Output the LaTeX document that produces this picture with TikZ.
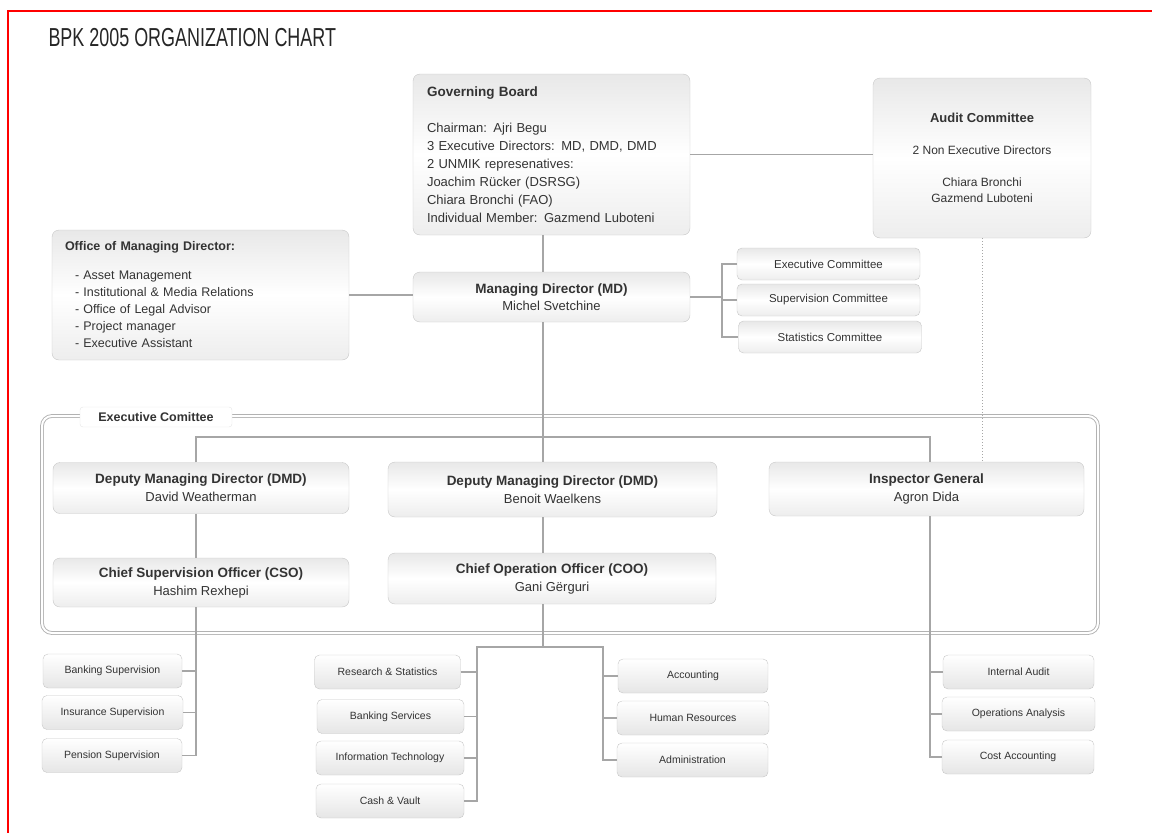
\documentclass[tikz,border=0pt]{standalone}
\usepackage{fontspec}
\setmainfont{Liberation Sans}
\usepackage{graphicx}

\newcommand\unithead[1]{{\fontsize{13.5}{18}\selectfont\bfseries #1}}

\tikzset{
  unit/.style={draw=black!22, rounded corners=7pt, top color=black!9, bottom color=black!7,
    middle color=white, inner sep=0pt, align=center, text=black!80,
    font=\fontsize{13}{18}\selectfont},
  comm/.style={unit, rounded corners=5pt, minimum width=183pt, minimum height=32pt,
    font=\fontsize{11.5}{14}\selectfont},
  dept/.style={unit, rounded corners=5pt, top color=white, bottom color=black!10,
    minimum height=34pt, font=\fontsize{10.5}{13}\selectfont},
  link/.style={draw=black!35, line width=1.8pt},
  auditlink/.style={draw=black!35, line width=0.8pt, dash pattern=on 1pt off 2pt},
}

\begin{document}
\begin{tikzpicture}[x=1pt, y=-1pt]
  \path[use as bounding box] (0,0) rectangle (1152,833);
  \draw[red, line width=1.6pt] (8,840) -- (8,11) -- (1160,11);
  \node[anchor=base west, text=black!85, font=\fontsize{26}{26}\selectfont] (title) at (45,46)
    {\scalebox{0.69}[1]{BPK 2005 ORGANIZATION CHART}};

  % top level
  \node[unit, minimum width=277pt, minimum height=161pt, text width=249pt, align=left] (gb) at (551.5,154.5)
    {\unithead{Governing Board}\\[17.5pt]
     Chairman: Ajri Begu\\
     3 Executive Directors: MD, DMD, DMD\\
     2 UNMIK represenatives:\\
     Joachim Rücker (DSRSG)\\
     Chiara Bronchi (FAO)\\
     Individual Member: Gazmend Luboteni};
  \node[unit, minimum width=218pt, minimum height=160pt, font=\fontsize{12}{16}\selectfont] (ac) at (982,158)
    {{\fontsize{13}{16}\selectfont\bfseries Audit Committee}\\[16pt]
     2 Non Executive Directors\\[16pt]
     Chiara Bronchi\\
     Gazmend Luboteni};
  \node[unit, minimum width=297pt, minimum height=130pt, text width=271pt, align=left,
    font=\fontsize{12.5}{17}\selectfont] (om) at (200.5,295)
    {{\bfseries Office of Managing Director:}\\[12pt]
     \hspace*{10pt}- Asset Management\\
     \hspace*{10pt}- Institutional \& Media Relations\\
     \hspace*{10pt}- Office of Legal Advisor\\
     \hspace*{10pt}- Project manager\\
     \hspace*{10pt}- Executive Assistant};
  \node[unit, minimum width=277pt, minimum height=50pt, font=\fontsize{13}{17}\selectfont] (md) at (551.5,297)
    {\unithead{Managing Director (MD)}\\ Michel Svetchine};
  \node[comm] (ec) at (828.5,264) {Executive Committee};
  \node[comm] (sc) at (828.5,300) {Supervision Committee};
  \node[comm] (stc) at (830,337) {Statistics Committee};

  % executive committee frame
  \draw[draw=black!30, line width=0.9pt, double=white, double distance=2pt, rounded corners=10pt]
    (42,416) rectangle (1098,633);
  \node[draw=black!10, fill=white, rounded corners=3pt, minimum width=152pt, minimum height=20pt,
    inner sep=0pt, text=black!80, font=\fontsize{12.5}{14}\selectfont\bfseries] (frame) at (156,417)
    {Executive Comittee};

  \node[unit, minimum width=296pt, minimum height=51pt] (dmd1) at (201,488)
    {\unithead{Deputy Managing Director (DMD)}\\ David Weatherman};
  \node[unit, minimum width=329pt, minimum height=55pt] (dmd2) at (552.5,489.5)
    {\unithead{Deputy Managing Director (DMD)}\\ Benoit Waelkens};
  \node[unit, minimum width=315pt, minimum height=54pt] (ig) at (926.5,489)
    {\unithead{Inspector General}\\ Agron Dida};
  \node[unit, minimum width=296pt, minimum height=49pt] (cso) at (201,582.5)
    {\unithead{Chief Supervision Officer (CSO)}\\ Hashim Rexhepi};
  \node[unit, minimum width=328pt, minimum height=51pt] (coo) at (552,578.5)
    {\unithead{Chief Operation Officer (COO)}\\ Gani Gërguri};

  % departments
  \node[dept, minimum width=139pt] (bs) at (112.5,671) {Banking Supervision};
  \node[dept, minimum width=141pt] (is) at (112.5,712.5) {Insurance Supervision};
  \node[dept, minimum width=140pt] (ps) at (112,755.5) {Pension Supervision};
  \node[dept, minimum width=146pt] (rs) at (387.5,672) {Research \& Statistics};
  \node[dept, minimum width=147pt] (bsv) at (390.5,716.5) {Banking Services};
  \node[dept, minimum width=148pt] (it) at (390,758) {Information Technology};
  \node[dept, minimum width=148pt] (cv) at (390,801) {Cash \& Vault};
  \node[dept, minimum width=150pt] (acc) at (693,676) {Accounting};
  \node[dept, minimum width=152pt] (hr) at (693,718) {Human Resources};
  \node[dept, minimum width=151pt] (adm) at (692.5,760) {Administration};
  \node[dept, minimum width=151pt] (ia) at (1018.5,672) {Internal Audit};
  \node[dept, minimum width=153pt] (oa) at (1018.5,714) {Operations Analysis};
  \node[dept, minimum width=152pt] (ca) at (1018,757) {Cost Accounting};

  % connectors
  \coordinate (colA) at (196,0);
  \coordinate (colB) at (543,0);
  \coordinate (colC) at (930,0);
  \coordinate (colD) at (722,0);
  \coordinate (colE) at (477,0);
  \coordinate (colF) at (603,0);
  \coordinate (barY) at (0,437);
  \coordinate (forkY) at (0,647);

  \draw[link] (gb.south -| colB) -- (md.north -| colB);
  \draw[link] (gb.east) -- (gb.east -| ac.west);
  \draw[link] (om.east) -- (om.east -| md.west);
  \draw[link] (md.east) -- (md.east -| colD);
  \draw[link] (ec.west) -| (colD |- stc.west) -- (stc.west);
  \draw[link] (colD |- sc.west) -- (sc.west);
  \draw[auditlink] (ac.south) -- (ig.north -| ac.south);

  \draw[link] (md.south -| colB) -- (dmd2.north -| colB);
  \draw[link] (dmd1.north -| colA) |- (colC |- barY) -- (ig.north -| colC);
  \draw[link] (dmd1.south -| colA) -- (cso.north -| colA);
  \draw[link] (dmd2.south -| colB) -- (coo.north -| colB);

  \draw[link] (cso.south -| colA) -- (colA |- ps.east) -- (ps.east);
  \draw[link] (bs.east) -- (colA |- bs.east);
  \draw[link] (is.east) -- (colA |- is.east);

  \draw[link] (coo.south -| colB) -- (colB |- forkY);
  \draw[link] (cv.east) -- (colE |- cv.east) -- (colE |- forkY) -- (colF |- forkY) -- (colF |- adm.west) -- (adm.west);
  \draw[link] (rs.east) -- (colE |- rs.east);
  \draw[link] (bsv.east) -- (colE |- bsv.east);
  \draw[link] (it.east) -- (colE |- it.east);
  \draw[link] (colF |- acc.west) -- (acc.west);
  \draw[link] (colF |- hr.west) -- (hr.west);

  \draw[link] (ig.south -| colC) -- (colC |- ca.west) -- (ca.west);
  \draw[link] (colC |- ia.west) -- (ia.west);
  \draw[link] (colC |- oa.west) -- (oa.west);
\end{tikzpicture}
\end{document}
